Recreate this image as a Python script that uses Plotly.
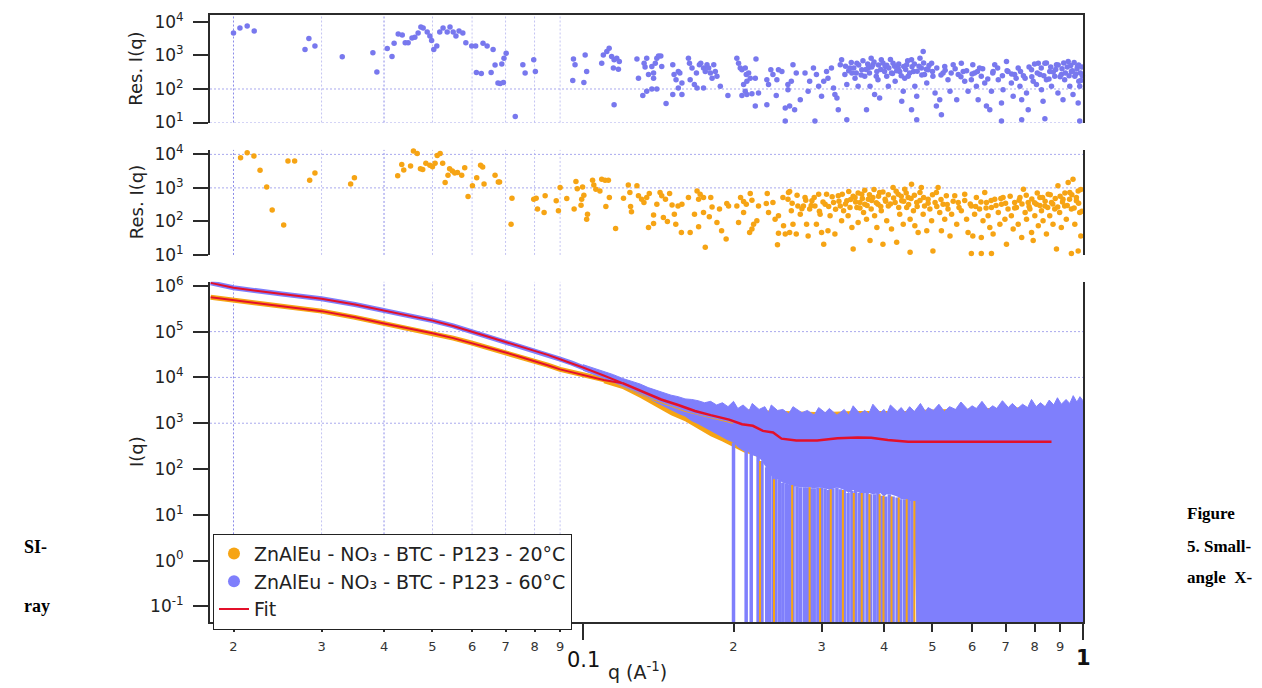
import math
import plotly.graph_objects as go

# ------------------------------------------------------------------ data
res60 = [
    (0.0200, 4.7e3), (0.0206, 6.6e3), (0.0213, 7.6e3), (0.0220, 5.4e3), (0.0278, 1.5e3), (0.0283, 3.2e3),
    (0.0291, 1.9e3), (0.0330, 910), (0.0380, 1.2e3), (0.0387, 320), (0.0406, 1.6e3), (0.0415, 930),
    (0.0419, 2.3e3), (0.0427, 4.4e3), (0.0435, 4.1e3), (0.0441, 2.4e3), (0.0447, 2.4e3), (0.0455, 3.3e3),
    (0.0461, 3.5e3), (0.0468, 4.7e3), (0.0474, 7.1e3), (0.0479, 6.6e3), (0.0488, 5.0e3), (0.0494, 3.8e3),
    (0.0498, 2.8e3), (0.0503, 1.5e3), (0.0510, 1.9e3), (0.0517, 5.0e3), (0.0525, 6.6e3), (0.0535, 5.0e3),
    (0.0542, 7.1e3), (0.0550, 5.0e3), (0.0557, 3.8e3), (0.0565, 5.4e3), (0.0575, 4.7e3), (0.0583, 2.4e3),
    (0.0599, 1.9e3), (0.0610, 1.9e3), (0.0612, 310), (0.0626, 290), (0.0631, 2.3e3), (0.0643, 1.9e3),
    (0.0655, 310), (0.0661, 1.5e3), (0.0667, 520), (0.0676, 150),
    (0.0688, 560), (0.0693, 155), (0.0683, 145), (0.0702, 1170), (0.0695, 830), (0.0732, 15), (0.0758, 530),
    (0.0766, 300), (0.0797, 740), (0.0803, 330), (0.0957, 780), (0.0964, 530), (0.0954, 180), (0.1010, 1040),
    (0.1017, 330), (0.1004, 155), (0.1090, 590), (0.1098, 1040), (0.1116, 1310), (0.1128, 1650), (0.1141, 930),
    (0.1154, 740), (0.1168, 830), (0.1182, 660), (0.1150, 420), (0.1177, 390), (0.1154, 34), (0.1282, 780),
    (0.1291, 210), (0.1325, 590), (0.1331, 450), (0.1341, 830), (0.1352, 270), (0.1384, 300), (0.1373, 470),
    (0.1395, 590), (0.1405, 830), (0.1416, 970), (0.1431, 970), (0.1384, 210), (0.1341, 85), (0.1317, 64),
    (0.1373, 100), (0.1405, 100), (0.1437, 470), (0.1466, 37), (0.1512, 530), (0.1521, 270), (0.1535, 190),
    (0.1551, 330), (0.1562, 300), (0.1577, 150), (0.1551, 107), (0.1512, 68), (0.1577, 68), (0.1625, 830),
    (0.1633, 590), (0.1652, 420), (0.1638, 190), (0.1670, 135), (0.1686, 300), (0.1709, 530), (0.1720, 590),
    (0.1742, 420), (0.1756, 330), (0.1691, 107), (0.1742, 107), (0.1770, 530), (0.1784, 420), (0.1798, 300),
    (0.1812, 210), (0.1826, 530), (0.1839, 330), (0.1853, 240), (0.1882, 120), (0.1949, 64), (0.2031, 830),
    (0.2047, 590), (0.2063, 420), (0.2079, 375), (0.2111, 420), (0.2121, 270), (0.2144, 300), (0.2160, 210),
    (0.2127, 170), (0.2095, 135), (0.2111, 85), (0.2079, 64), (0.2127, 68), (0.2177, 72), (0.2218, 780),
    (0.2211, 210), (0.2244, 76), (0.2211, 31), (0.2332, 34), (0.2332, 190), (0.2350, 135), (0.2375, 375),
    (0.2398, 270), (0.2435, 64), (0.2442, 190), (0.2460, 375), (0.2499, 330), (0.2538, 27), (0.2569, 135),
    (0.2538, 11),
    (0.263, 530), (0.267, 300), (0.261, 170), (0.257, 95), (0.259, 31), (0.265, 24), (0.272, 48), (0.278, 300),
    (0.284, 170), (0.282, 85), (0.289, 420), (0.293, 270), (0.296, 120), (0.300, 61), (0.303, 170), (0.307, 330),
    (0.309, 210), (0.314, 420), (0.317, 107), (0.319, 68), (0.322, 54), (0.327, 530), (0.329, 740), (0.334, 270),
    (0.337, 135), (0.324, 24), (0.337, 12), (0.342, 420), (0.345, 300), (0.350, 210), (0.353, 590), (0.355, 120),
    (0.361, 375), (0.366, 240), (0.372, 420), (0.375, 120), (0.369, 24), (0.377, 830), (0.380, 530), (0.387, 330),
    (0.389, 190), (0.383, 68), (0.392, 54), (0.395, 740), (0.402, 470), (0.405, 240), (0.408, 120), (0.414, 300),
    (0.417, 590), (0.421, 170), (0.427, 420), (0.430, 330), (0.434, 43), (0.437, 85), (0.440, 210), (0.444, 530),
    (0.447, 240), (0.454, 740), (0.458, 330), (0.461, 120), (0.465, 61), (0.454, 24), (0.465, 12), (0.472, 830),
    (0.475, 420), (0.479, 1310), (0.482, 270), (0.487, 150), (0.490, 375), (0.498, 590), (0.501, 240), (0.506, 76),
    (0.509, 31), (0.517, 48), (0.521, 17), (0.525, 300), (0.529, 470), (0.537, 190), (0.542, 85), (0.550, 530),
    (0.559, 48), (0.563, 270), (0.571, 590), (0.576, 330), (0.580, 170), (0.589, 85), (0.598, 190), (0.602, 530),
    (0.607, 300), (0.612, 120), (0.617, 48), (0.621, 420), (0.626, 240), (0.636, 150), (0.641, 31), (0.651, 24),
    (0.656, 85), (0.661, 330), (0.666, 530), (0.677, 190), (0.687, 38), (0.692, 95), (0.703, 660), (0.708, 330),
    (0.719, 150), (0.725, 61), (0.730, 270), (0.742, 420), (0.748, 120), (0.754, 48), (0.766, 210), (0.771, 76),
    (0.777, 24), (0.789, 375), (0.795, 170), (0.807, 135), (0.814, 590), (0.820, 270), (0.826, 95), (0.832, 43),
    (0.839, 590), (0.845, 190), (0.858, 330), (0.865, 120), (0.878, 240), (0.885, 530), (0.891, 76), (0.905, 270),
    (0.912, 48), (0.919, 190), (0.934, 660), (0.941, 120), (0.948, 330), (0.955, 68), (0.963, 240), (0.975, 470),
    (0.981, 170), (0.985, 120), (0.978, 38), (0.291, 11), (0.687, 11), (0.754, 12), (0.839, 13), (0.985, 11),
    (0.335, 480), (0.340, 350), (0.344, 620), (0.348, 420), (0.352, 300), (0.356, 520), (0.360, 260), (0.363, 700),
    (0.368, 380), (0.371, 560), (0.374, 300), (0.378, 450), (0.382, 640), (0.386, 240), (0.390, 520), (0.394, 380),
    (0.398, 600), (0.401, 330), (0.405, 510), (0.409, 420), (0.412, 760), (0.416, 290), (0.420, 480), (0.424, 350),
    (0.428, 560), (0.433, 250), (0.438, 470), (0.442, 380), (0.446, 690), (0.450, 300), (0.455, 460), (0.460, 560),
    (0.466, 340), (0.470, 480), (0.476, 260), (0.480, 600), (0.486, 390), (0.492, 500), (0.500, 330), (0.510, 420),
    (0.520, 260), (0.530, 360), (0.545, 300), (0.555, 400), (0.570, 230), (0.585, 350), (0.600, 280), (0.615, 330),
    (0.630, 400), (0.645, 200), (0.660, 300), (0.675, 420), (0.690, 250), (0.705, 350), (0.720, 280), (0.735, 210),
    (0.750, 330), (0.760, 250), (0.780, 450), (0.790, 230), (0.800, 560), (0.810, 300), (0.825, 420), (0.835, 250),
    (0.845, 600), (0.855, 200), (0.862, 450), (0.872, 320), (0.882, 380), (0.892, 520), (0.900, 230), (0.908, 400),
    (0.915, 600), (0.922, 300), (0.930, 450), (0.938, 250), (0.945, 500), (0.952, 350), (0.960, 620), (0.967, 280),
    (0.973, 400), (0.980, 520), (0.988, 300), (0.995, 450), (0.990, 180), (0.997, 250),
]

res20 = [
    (0.02066, 7.9e3), (0.0213, 1.12e4), (0.02197, 8.9e3), (0.0226, 3.35e3), (0.0233, 1.07e3), (0.0239, 220),
    (0.0252, 78), (0.0257, 6.3e3), (0.0265, 6.3e3), (0.0284, 1.7e3), (0.0291, 2.8e3), (0.0343, 1.3e3),
    (0.0349, 2.0e3), (0.0426, 2.3e3), (0.0434, 5.0e3), (0.0438, 3.4e3), (0.0452, 4.5e3), (0.0458, 1.26e4),
    (0.0466, 1.07e4), (0.0473, 3.7e3), (0.0478, 3.55e3), (0.0485, 5.4e3), (0.0494, 4.7e3), (0.0500, 4.3e3),
    (0.0506, 5.4e3), (0.0511, 9.3e3), (0.0518, 1.07e4), (0.0524, 5.4e3), (0.0530, 1.45e3), (0.0537, 2.4e3),
    (0.0541, 3.7e3), (0.0548, 3.2e3), (0.0554, 2.8e3), (0.0561, 2.9e3), (0.0572, 2.4e3), (0.0580, 4.0e3),
    (0.0589, 550), (0.0601, 1.15e3), (0.0613, 2.0e3), (0.0624, 4.7e3), (0.0630, 4.2e3), (0.0634, 1.3e3),
    (0.0667, 2.4e3), (0.0677, 1.5e3),
    (0.0681, 1.5e3), (0.0721, 490), (0.0718, 83), (0.0797, 460), (0.0806, 490), (0.0811, 235), (0.0840, 580),
    (0.0836, 185), (0.0884, 411), (0.0893, 207), (0.0900, 1020), (0.0928, 480), (0.0960, 235), (0.0968, 1540),
    (0.0974, 950), (0.0994, 460), (0.0991, 305), (0.0998, 1070), (0.1004, 600), (0.1021, 165), (0.1017, 117),
    (0.1045, 1680), (0.1051, 1230), (0.1061, 915), (0.1081, 815), (0.1090, 1800), (0.1107, 1680), (0.1124, 1680),
    (0.1129, 516), (0.1111, 280), (0.1162, 62), (0.1205, 490), (0.1232, 1230), (0.1241, 730), (0.1245, 280),
    (0.1250, 195), (0.1282, 1150), (0.1291, 580), (0.1310, 460), (0.1324, 365), (0.1341, 516), (0.1357, 680),
    (0.1352, 66), (0.1384, 155), (0.1384, 87), (0.1405, 327), (0.1426, 730), (0.1437, 580), (0.1448, 131),
    (0.1462, 460), (0.1475, 100), (0.1490, 680), (0.1507, 310), (0.1523, 165), (0.1533, 83), (0.1549, 290),
    (0.1577, 327), (0.1573, 47), (0.1625, 516), (0.1638, 47), (0.1671, 165), (0.1691, 815), (0.1703, 460),
    (0.1715, 650), (0.1703, 69), (0.1742, 516), (0.1756, 17), (0.1742, 185), (0.1789, 137), (0.1801, 516),
    (0.1812, 270), (0.1853, 93), (0.1875, 235), (0.1893, 53), (0.1939, 343), (0.1955, 290), (0.1933, 30),
    (0.2031, 290), (0.2047, 93), (0.2066, 516), (0.2095, 390), (0.2121, 327), (0.2095, 185), (0.2160, 680),
    (0.2177, 430), (0.2154, 47), (0.2177, 59), (0.2194, 83), (0.2227, 105), (0.2244, 290), (0.2336, 680),
    (0.2350, 185), (0.2326, 343), (0.2398, 365), (0.2422, 117), (0.2460, 147), (0.2449, 20), (0.2460, 44),
    (0.2511, 516), (0.2518, 74), (0.2538, 42), (0.2576, 730),
    (0.259, 780), (0.257, 460), (0.261, 207), (0.263, 83), (0.259, 47), (0.269, 290), (0.272, 165), (0.267, 42),
    (0.276, 290), (0.278, 516), (0.280, 83), (0.282, 37), (0.284, 235), (0.287, 411), (0.291, 290), (0.293, 83),
    (0.296, 650), (0.298, 165), (0.300, 47), (0.303, 21), (0.305, 327), (0.307, 650), (0.309, 53), (0.312, 147),
    (0.317, 365), (0.319, 42), (0.324, 580), (0.327, 290), (0.329, 105), (0.332, 207), (0.337, 411), (0.339, 147),
    (0.342, 261), (0.345, 66), (0.347, 15), (0.350, 516), (0.353, 261), (0.355, 93), (0.358, 365), (0.361, 650),
    (0.364, 185), (0.366, 327), (0.369, 117), (0.372, 460), (0.375, 27), (0.377, 235), (0.380, 516), (0.383, 147),
    (0.387, 66), (0.389, 327), (0.392, 730), (0.395, 207), (0.398, 21), (0.402, 460), (0.405, 105), (0.408, 290),
    (0.414, 59), (0.417, 1020), (0.421, 365), (0.424, 24), (0.427, 650), (0.430, 165), (0.434, 411), (0.437, 83),
    (0.440, 915), (0.444, 261), (0.447, 516), (0.451, 117), (0.454, 1290), (0.458, 207), (0.461, 74), (0.465, 365),
    (0.468, 47), (0.472, 730), (0.475, 1020), (0.479, 165), (0.482, 290), (0.487, 53), (0.490, 460), (0.494, 235),
    (0.498, 105), (0.501, 13), (0.506, 365), (0.509, 730), (0.513, 1020), (0.517, 185), (0.521, 53), (0.525, 327),
    (0.529, 117), (0.533, 580), (0.537, 235), (0.542, 37), (0.546, 165), (0.554, 580), (0.559, 83), (0.563, 365),
    (0.571, 207), (0.580, 650), (0.585, 117), (0.589, 47), (0.598, 290), (0.602, 37), (0.607, 165), (0.612, 516),
    (0.621, 235), (0.626, 33), (0.631, 105), (0.636, 730), (0.641, 365), (0.646, 147), (0.651, 66), (0.656, 261),
    (0.661, 42), (0.666, 460), (0.677, 185), (0.682, 83), (0.687, 327), (0.692, 516), (0.698, 117), (0.703, 21),
    (0.708, 235), (0.719, 147), (0.725, 59), (0.730, 365), (0.736, 261), (0.742, 83), (0.748, 516), (0.754, 33),
    (0.760, 915), (0.766, 185), (0.771, 117), (0.777, 365), (0.783, 235), (0.789, 47), (0.795, 27), (0.801, 147),
    (0.807, 327), (0.814, 74), (0.820, 516), (0.826, 207), (0.832, 105), (0.839, 290), (0.845, 42), (0.852, 650),
    (0.858, 147), (0.865, 365), (0.871, 83), (0.878, 235), (0.885, 15), (0.891, 1150), (0.898, 185), (0.905, 66),
    (0.912, 460), (0.919, 290), (0.926, 117), (0.934, 1450), (0.941, 730), (0.948, 235), (0.955, 1800), (0.963, 83),
    (0.970, 411), (0.978, 815), (0.985, 185), (0.990, 37), (0.978, 13), (0.948, 11), (0.598, 11), (0.626, 11),
    (0.656, 11), (0.451, 12),
    (0.262, 350), (0.268, 600), (0.274, 240), (0.279, 430), (0.286, 300), (0.290, 520), (0.297, 200), (0.302, 380),
    (0.310, 280), (0.315, 540), (0.320, 230), (0.325, 400), (0.330, 650), (0.335, 330), (0.340, 780), (0.343, 450),
    (0.347, 560), (0.351, 380), (0.355, 700), (0.358, 250), (0.362, 480), (0.366, 850), (0.370, 300), (0.374, 620),
    (0.378, 420), (0.382, 900), (0.386, 360), (0.390, 560), (0.394, 280), (0.398, 750), (0.403, 400), (0.408, 620),
    (0.412, 330), (0.418, 500), (0.423, 800), (0.428, 260), (0.433, 560), (0.438, 400), (0.443, 700), (0.448, 320),
    (0.453, 480), (0.460, 600), (0.466, 280), (0.472, 420), (0.480, 520), (0.490, 350), (0.500, 620), (0.510, 280),
    (0.520, 450), (0.535, 320), (0.550, 400), (0.565, 260), (0.580, 420), (0.595, 330), (0.610, 280), (0.625, 380),
    (0.640, 250), (0.655, 420), (0.670, 300), (0.685, 480), (0.700, 350), (0.715, 560), (0.730, 250), (0.745, 430),
    (0.755, 330), (0.770, 600), (0.780, 280), (0.790, 470), (0.800, 360), (0.810, 700), (0.820, 300), (0.830, 520),
    (0.840, 400), (0.850, 260), (0.860, 620), (0.870, 330), (0.880, 480), (0.890, 270), (0.900, 560), (0.910, 380),
    (0.920, 700), (0.930, 300), (0.940, 460), (0.950, 620), (0.960, 250), (0.970, 520), (0.980, 350), (0.990, 900),
    (0.995, 200),
]

curve_q = [0.018, 0.02, 0.025, 0.03, 0.035, 0.04, 0.045, 0.05, 0.055, 0.06, 0.065, 0.07, 0.075, 0.08,
           0.085, 0.09, 0.095, 0.1, 0.11, 0.12, 0.13, 0.14, 0.15, 0.16, 0.17, 0.18, 0.19, 0.2]
I_60 = [1.16e6, 9.1e5, 6.6e5, 5.2e5, 3.9e5, 2.9e5, 2.25e5, 1.74e5, 1.33e5, 1.0e5, 7.6e4, 5.8e4, 4.7e4, 3.8e4,
        3.1e4, 2.5e4, 2.05e4, 1.65e4, 1.1e4, 7.6e3, 5.2e3, 3.6e3, 2.7e3, 2.1e3, 1.75e3, 1.5e3, 1.3e3, 1.15e3]
I_20 = [5.6e5, 4.8e5, 3.6e5, 2.8e5, 2.05e5, 1.5e5, 1.17e5, 9.2e4, 7.2e4, 5.6e4, 4.4e4, 3.5e4, 2.8e4, 2.3e4,
        1.85e4, 1.5e4, 1.3e4, 1.15e4, 8.8e3, 7.2e3, 5.0e3, 3.4e3, 2.6e3, 2.0e3, 1.7e3, 1.45e3, 1.25e3, 1.1e3]

# Noise envelope of the measured 60 °C data: (q, lower edge, upper edge)
env_60 = [
    (0.100, 1.4e4, 1.9e4), (0.105, 1.15e4, 1.6e4), (0.110, 9.0e3, 1.35e4), (0.115, 7.5e3, 1.15e4),
    (0.120, 6.3e3, 9.5e3), (0.125, 5.2e3, 8.2e3), (0.130, 4.2e3, 7.2e3), (0.135, 3.5e3, 6.0e3),
    (0.140, 2.8e3, 5.2e3), (0.145, 2.3e3, 4.6e3), (0.150, 1.9e3, 4.1e3), (0.155, 1.6e3, 3.8e3),
    (0.160, 1.4e3, 3.4e3), (0.165, 1.1e3, 3.3e3), (0.170, 950, 3.1e3), (0.175, 800, 2.8e3),
    (0.180, 650, 3.0e3), (0.185, 560, 2.5e3), (0.190, 480, 2.8e3), (0.195, 420, 2.3e3),
    (0.200, 380, 3.0e3), (0.204, 300, 2.1e3), (0.209, 250, 2.5e3), (0.215, 230, 1.9e3),
    (0.218, 200, 2.7e3), (0.225, 180, 2.0e3), (0.231, 120, 2.3e3), (0.235, 90, 1.7e3),
    (0.238, 70, 2.5e3), (0.245, 60, 1.9e3), (0.251, 50, 2.0e3), (0.258, 45, 1.6e3),
    (0.263, 42, 2.3e3), (0.274, 40, 1.7e3), (0.281, 40, 1.9e3), (0.290, 38, 1.5e3),
    (0.296, 40, 2.2e3), (0.305, 38, 1.7e3), (0.311, 35, 2.1e3), (0.322, 40, 1.5e3),
    (0.333, 35, 2.0e3), (0.340, 30, 1.5e3), (0.347, 35, 2.4e3), (0.358, 30, 1.6e3),
    (0.366, 30, 1.9e3), (0.373, 30, 1.6e3), (0.380, 28, 2.6e3), (0.393, 30, 1.7e3),
    (0.400, 25, 2.0e3), (0.405, 28, 1.6e3), (0.412, 28, 2.5e3), (0.425, 25, 1.8e3),
    (0.433, 22, 2.2e3), (0.441, 22, 1.7e3), (0.450, 20, 2.3e3), (0.460, 20, 1.8e3),
    (0.465, 0.01, 2.1e3), (0.473, 0.01, 2.7e3), (0.484, 0.01, 1.8e3), (0.490, 0.01, 2.2e3),
    (0.502, 0.01, 1.9e3), (0.515, 0.01, 2.6e3), (0.528, 0.01, 1.8e3), (0.541, 0.01, 2.3e3),
    (0.556, 0.01, 2.0e3), (0.570, 0.01, 2.9e3), (0.588, 0.01, 2.0e3), (0.600, 0.01, 2.4e3),
    (0.612, 0.01, 2.1e3), (0.628, 0.01, 3.0e3), (0.646, 0.01, 2.0e3), (0.660, 0.01, 2.4e3),
    (0.672, 0.01, 2.1e3), (0.690, 0.01, 3.1e3), (0.709, 0.01, 2.2e3), (0.722, 0.01, 2.7e3),
    (0.740, 0.01, 2.1e3), (0.757, 0.01, 2.6e3), (0.775, 0.01, 2.2e3), (0.789, 0.01, 3.3e3),
    (0.806, 0.01, 2.3e3), (0.822, 0.01, 2.8e3), (0.840, 0.01, 2.3e3), (0.856, 0.01, 3.2e3),
    (0.874, 0.01, 2.5e3), (0.889, 0.01, 3.6e3), (0.905, 0.01, 2.6e3), (0.925, 0.01, 3.3e3),
    (0.941, 0.01, 2.7e3), (0.956, 0.01, 4.0e3), (0.972, 0.01, 2.9e3), (0.986, 0.01, 3.8e3),
    (1.000, 0.01, 3.1e3),
]
env_20 = [
    (0.11, 7.5e3, 1.0e4), (0.12, 5.6e3, 8.0e3), (0.13, 3.6e3, 6.0e3), (0.14, 2.3e3, 4.4e3),
    (0.15, 1.5e3, 3.4e3), (0.16, 1.1e3, 2.9e3), (0.17, 750, 2.5e3), (0.18, 520, 2.2e3),
    (0.19, 400, 2.0e3), (0.20, 300, 2.1e3), (0.21, 230, 1.9e3), (0.22, 200, 2.0e3),
    (0.23, 150, 1.8e3), (0.24, 120, 1.9e3), (0.25, 100, 1.8e3), (0.30, 90, 1.7e3),
    (0.35, 80, 1.8e3), (0.40, 70, 1.8e3), (0.46, 60, 1.8e3), (0.465, 0.01, 1.9e3),
    (0.60, 0.01, 2.0e3), (0.80, 0.01, 2.2e3), (0.95, 0.01, 2.5e3), (1.00, 0.01, 2.7e3),
]
# Points whose error bars reach the bottom of the log axis: (q, top of bar)
drops_60 = [
    (0.200, 380), (0.212, 250), (0.217, 230), (0.224, 190), (0.228, 150), (0.233, 110), (0.236, 90),
    (0.240, 70), (0.243, 65), (0.247, 60), (0.251, 50), (0.255, 48), (0.259, 45), (0.263, 45), (0.268, 42),
    (0.272, 40), (0.277, 40), (0.281, 40), (0.286, 38), (0.290, 38), (0.295, 40), (0.300, 40), (0.305, 38),
    (0.310, 35), (0.316, 38), (0.322, 40), (0.327, 36), (0.333, 35), (0.339, 30), (0.345, 33), (0.351, 35),
    (0.357, 30), (0.363, 30), (0.370, 30), (0.376, 28), (0.383, 28), (0.389, 30), (0.396, 26), (0.403, 25),
    (0.410, 28), (0.417, 25), (0.425, 24), (0.432, 22), (0.440, 22), (0.448, 21), (0.455, 20),
]
drops_20 = [
    (0.226, 150), (0.241, 60), (0.262, 45), (0.284, 40), (0.298, 38), (0.313, 36), (0.331, 35), (0.348, 30),
    (0.361, 30), (0.374, 28), (0.392, 28), (0.399, 26), (0.414, 25), (0.428, 24), (0.444, 22), (0.460, 20),
]
# Model fits
fit_q = [0.018, 0.02, 0.025, 0.03, 0.035, 0.04, 0.045, 0.05, 0.055, 0.06, 0.065, 0.07, 0.075, 0.08,
         0.085, 0.09, 0.095, 0.1, 0.11, 0.12]
fit_60 = [1.16e6, 9.1e5, 6.6e5, 5.2e5, 3.9e5, 2.9e5, 2.25e5, 1.74e5, 1.33e5, 1.0e5, 7.6e4, 5.8e4, 4.7e4,
          3.8e4, 3.1e4, 2.5e4, 2.05e4, 1.65e4, 1.1e4, 7.5e3]
fit_20 = [5.6e5, 4.8e5, 3.6e5, 2.8e5, 2.05e5, 1.5e5, 1.17e5, 9.2e4, 7.2e4, 5.6e4, 4.4e4, 3.5e4, 2.8e4,
          2.3e4, 1.85e4, 1.5e4, 1.3e4, 1.15e4, 8.8e3, 7.5e3]
fit_q_hi = [0.12, 0.13, 0.1433, 0.155, 0.1675, 0.18, 0.196, 0.208, 0.2186, 0.229, 0.24, 0.2495, 0.267, 0.294,
            0.323, 0.354, 0.377, 0.407, 0.447, 0.5, 0.6, 0.7, 0.8, 0.865]
fit_hi = [7.5e3, 5.1e3, 3.3e3, 2.5e3, 1.85e3, 1.5e3, 1.2e3, 950, 880, 680, 630, 460, 420, 420,
          470, 490, 480, 430, 395, 395, 395, 395, 395, 395]

# Axis ticks / labels
minor_q = [0.02, 0.03, 0.04, 0.05, 0.06, 0.07, 0.08, 0.09, 0.2, 0.3, 0.4, 0.5, 0.6, 0.7, 0.8, 0.9]
minor_txt = ["2", "3", "4", "5", "6", "7", "8", "9", "2", "3", "4", "5", "6", "7", "8", "9"]
major_q = [0.1, 1]
major_txt = ["0.1", "<b>1</b>"]
res_ticks = [10, 100, 1000, 10000]
res_ticktext = ["10<sup>1</sup>", "10<sup>2</sup>", "10<sup>3</sup>", "10<sup>4</sup>"]
i_ticks = [0.1, 1, 10, 100, 1e3, 1e4, 1e5, 1e6]
i_ticktext = ["10<sup>-1</sup>", "10<sup>0</sup>", "10<sup>1</sup>", "10<sup>2</sup>", "10<sup>3</sup>",
              "10<sup>4</sup>", "10<sup>5</sup>", "10<sup>6</sup>"]
vgrid_q = [0.02, 0.03, 0.04, 0.05, 0.06, 0.07, 0.08, 0.09]
vgrid_strong = [0.02, 0.04]
hgrid = {"y": [10, 100], "y2": [1e4, 1e3], "y3": [1e3, 1e4, 1e5]}
names = ["ZnAlEu - NO₃ - BTC - P123 - 20°C", "ZnAlEu - NO₃ - BTC - P123 - 60°C", "Fit"]

# ------------------------------------------------------------------ style
W, H = 1262, 688
BLUE = "#7f7ffc"
BLUE_M = "#7878ee"
ORANGE = "#f6a414"
RED = "#e3102a"
AXC = "#2b2b2b"
GRID = "#a9a9ee"
FONT = "DejaVu Sans"
# the page is photographed with an 8 px band above the figure and a slight vertical squeeze
Y_OFF, Y_SCALE = 8.0, 0.978


def px(x):
    return x / W


def py(t):
    return 1 - ((t - Y_OFF) / Y_SCALE) / H


XDOM = [px(210), px(1083)]
XR = [-1.746, 0]

fig = go.Figure()

fig.add_trace(go.Scatter(x=[p[0] for p in res60], y=[p[1] for p in res60], mode="markers",
                         marker=dict(size=5.5, color=BLUE_M), cliponaxis=False,
                         xaxis="x", yaxis="y", showlegend=False, hoverinfo="skip"))
fig.add_trace(go.Scatter(x=[p[0] for p in res20], y=[p[1] for p in res20], mode="markers",
                         marker=dict(size=5.5, color=ORANGE), cliponaxis=False,
                         xaxis="x2", yaxis="y2", showlegend=False, hoverinfo="skip"))


def band(env, color):
    q = [e[0] for e in env]
    fig.add_trace(go.Scatter(x=q, y=[e[1] for e in env], mode="lines", line=dict(width=0, color=color),
                             xaxis="x3", yaxis="y3", showlegend=False, hoverinfo="skip"))
    fig.add_trace(go.Scatter(x=q, y=[e[2] for e in env], mode="lines", line=dict(width=1, color=color),
                             fill="tonexty", fillcolor=color,
                             xaxis="x3", yaxis="y3", showlegend=False, hoverinfo="skip"))


def drops(d, color, w):
    xs, ys = [], []
    for q, top in d:
        xs += [q, q, None]
        ys += [top, 0.01, None]
    fig.add_trace(go.Scatter(x=xs, y=ys, mode="lines", line=dict(width=w, color=color),
                             xaxis="x3", yaxis="y3", showlegend=False, hoverinfo="skip"))


band(env_20, ORANGE)
band(env_60, BLUE)
drops(drops_60, BLUE, 3.5)
drops(drops_20, ORANGE, 2)

fig.add_trace(go.Scatter(x=curve_q, y=I_20, mode="lines", line=dict(width=5, color=ORANGE),
                         xaxis="x3", yaxis="y3", showlegend=False, hoverinfo="skip"))
fig.add_trace(go.Scatter(x=curve_q, y=I_60, mode="lines", line=dict(width=5, color=BLUE),
                         xaxis="x3", yaxis="y3", showlegend=False, hoverinfo="skip"))
for fv in (fit_20, fit_60):
    fig.add_trace(go.Scatter(x=fit_q, y=fv, mode="lines", line=dict(width=2, color=RED),
                             xaxis="x3", yaxis="y3", showlegend=False, hoverinfo="skip"))
fig.add_trace(go.Scatter(x=fit_q_hi, y=fit_hi, mode="lines", line=dict(width=2.5, color=RED),
                         xaxis="x3", yaxis="y3", showlegend=False, hoverinfo="skip"))

fig.add_trace(go.Scatter(x=[None], y=[None], mode="markers", marker=dict(size=12, color=ORANGE),
                         name=names[0], xaxis="x3", yaxis="y3"))
fig.add_trace(go.Scatter(x=[None], y=[None], mode="markers", marker=dict(size=12, color=BLUE),
                         name=names[1], xaxis="x3", yaxis="y3"))
fig.add_trace(go.Scatter(x=[None], y=[None], mode="lines", line=dict(width=2, color=RED),
                         name=names[2], xaxis="x3", yaxis="y3"))

shapes = []
for xr, yr in (("x", "y"), ("x2", "y2"), ("x3", "y3")):
    for q in vgrid_q:
        strong = q in vgrid_strong
        shapes.append(dict(type="line", xref=xr, yref=yr + " domain", x0=q, x1=q, y0=0, y1=1, layer="below",
                           line=dict(color="#8c8ce8" if strong else "#c4c4f2", width=1, dash="2px,2px")))
    for v in hgrid[yr]:
        shapes.append(dict(type="line", xref=xr + " domain", yref=yr, x0=0, x1=1, y0=v, y1=v, layer="below",
                           line=dict(color=GRID, width=1, dash="2px,2px")))

ytick = dict(type="log", showline=True, linecolor=AXC, linewidth=2, mirror=True, ticks="outside",
             ticklen=15, tickwidth=2, tickcolor=AXC, showgrid=False, zeroline=False,
             tickfont=dict(family=FONT, size=17, color="#222"), ticklabelstandoff=6)
xbase = dict(type="log", range=XR, domain=XDOM, showgrid=False, zeroline=False)

fig.update_layout(
    width=W, height=H, margin=dict(l=0, r=0, t=0, b=0), autosize=False,
    paper_bgcolor="white", plot_bgcolor="white", hovermode=False,
    font=dict(family=FONT, color="#222"),
    xaxis=dict(**xbase, anchor="y", side="top", showline=True, linecolor=AXC, linewidth=2,
               ticks="", showticklabels=False),
    xaxis2=dict(**xbase, anchor="y2", showline=False, ticks="", showticklabels=False),
    xaxis3=dict(**xbase, anchor="y3", showline=True, linecolor=AXC, linewidth=2,
                tickmode="array", tickvals=minor_q, ticktext=minor_txt, ticks="outside", ticklen=8,
                tickwidth=1.5, tickcolor=AXC, tickfont=dict(family=FONT, size=13, color="#333"),
                ticklabelstandoff=3,
                minor=dict(tickmode="array", tickvals=major_q, ticks="outside", ticklen=16, tickwidth=2,
                           tickcolor=AXC)),
    yaxis=dict(**ytick, anchor="x", domain=[py(123), py(15)], range=[1, 4.208],
               tickmode="array", tickvals=res_ticks, ticktext=res_ticktext),
    yaxis2=dict(**ytick, anchor="x2", domain=[py(256), py(150.5)], range=[1, 4.134],
                tickmode="array", tickvals=res_ticks, ticktext=res_ticktext),
    yaxis3=dict(**ytick, anchor="x3", domain=[py(625), py(283)], range=[-1.348, 6.087],
                tickmode="array", tickvals=i_ticks, ticktext=i_ticktext),
    shapes=shapes,
    legend=dict(x=px(213), y=py(536), xanchor="left", yanchor="top", bgcolor="white",
                bordercolor="#222", borderwidth=1, font=dict(family=FONT, size=19, color="#222"),
                tracegroupgap=0, itemwidth=30, traceorder="normal"),
)

ann = []
for yc, txt in ((69, "Res. I(q)"), (203, "Res. I(q)"), (454, "I(q)")):
    ann.append(dict(x=px(136), y=py(yc), xref="paper", yref="paper", text=txt, textangle=-90,
                    xanchor="center", yanchor="middle",
                    showarrow=False, font=dict(family=FONT, size=18, color="#222")))
for q, t, yy in zip(major_q, major_txt, (663, 661)):
    ann.append(dict(x=math.log10(q), y=py(yy), xref="x3", yref="paper", text=t, showarrow=False,
                    xanchor="center", yanchor="middle", font=dict(family=FONT, size=21, color="#111")))
ann.append(dict(x=px(637), y=py(674), xref="paper", yref="paper", text="q (A<sup>-1</sup>)",
                xanchor="center", yanchor="middle",
                showarrow=False, font=dict(family=FONT, size=19, color="#222")))
for xx, yy, t, fs in ((22, 549, "SI-", 18), (22, 609, "ray", 18), (1185, 516, "Figure", 17),
                      (1185, 549, "5. Small-", 17), (1185, 580, "angle  X-", 17)):
    ann.append(dict(x=px(xx), y=py(yy), xref="paper", yref="paper", text="<b>" + t + "</b>",
                    showarrow=False, xanchor="left", yanchor="middle",
                    font=dict(family="Liberation Serif", size=fs, color="#000")))
fig.update_layout(annotations=ann)

fig.write_html("out.html", config={"displayModeBar": False},
               post_script="document.body.style.margin='0';")
